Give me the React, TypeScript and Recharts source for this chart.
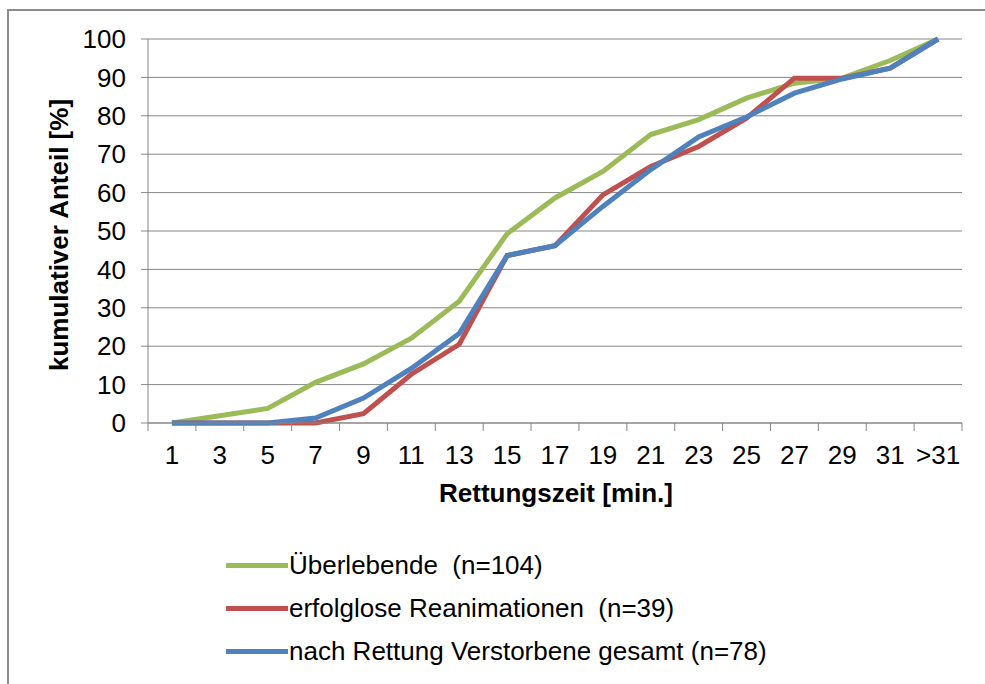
import React from 'react';
import { LineChart, Line, XAxis, YAxis, CartesianGrid, Legend, Label } from 'recharts';

const categories = ['1', '3', '5', '7', '9', '11', '13', '15', '17', '19', '21', '23', '25', '27', '29', '31', '>31'];
const ueberlebende = [0, 1.9, 3.8, 10.6, 15.4, 22.1, 31.7, 49.3, 58.6, 65.5, 75.1, 79.0, 84.6, 88.5, 89.8, 94.4, 100];
const erfolglos = [0, 0, 0, 0, 2.4, 12.7, 20.5, 43.6, 46.2, 59.4, 66.8, 72.0, 79.4, 89.8, 89.8, 92.4, 100];
const verstorben = [0, 0, 0, 1.3, 6.5, 14.2, 23.3, 43.6, 46.2, 56.4, 66.0, 74.5, 79.7, 85.9, 89.6, 92.4, 100];
const yTicks = [0, 10, 20, 30, 40, 50, 60, 70, 80, 90, 100];

const seriesNames = ['Überlebende  (n=104)', 'erfolglose Reanimationen  (n=39)', 'nach Rettung Verstorbene gesamt (n=78)'];
const seriesColors = ['#9BBB59', '#C0504D', '#4F81BD'];

const data = categories.map((c, i) => ({
  cat: c,
  s0: ueberlebende[i],
  s1: erfolglos[i],
  s2: verstorben[i],
}));

const FONT = '"Liberation Sans", Arial, sans-serif';
const AXIS = '#868686';
const W = 985;
const H = 684;
const PLOT_LEFT = 148;
const PLOT_RIGHT = 962;
const PLOT_TOP = 39;
const PLOT_BOTTOM = 423;
const X_AXIS_H = 100;
const HALF_BAND = (PLOT_RIGHT - PLOT_LEFT) / categories.length / 2;

const XTick = (props: any) => {
  const { x, y, payload, index } = props;
  return (
    <g>
      <line x1={x - HALF_BAND} x2={x - HALF_BAND} y1={y} y2={y + 8} stroke={AXIS} strokeWidth={1} />
      {index === categories.length - 1 && (
        <line x1={x + HALF_BAND} x2={x + HALF_BAND} y1={y} y2={y + 8} stroke={AXIS} strokeWidth={1} />
      )}
      <text x={x} y={y + 41} textAnchor="middle" fontSize={26} fill="#000" fontFamily={FONT}>
        {payload.value}
      </text>
    </g>
  );
};

const LegendContent = () => (
  <div style={{ fontFamily: FONT, fontSize: 26, color: '#000' }}>
    {seriesNames.map((n, i) => (
      <div key={n} style={{ display: 'flex', alignItems: 'center', height: 43, whiteSpace: 'pre' }}>
        <span style={{ display: 'inline-block', width: 62, height: 5, background: seriesColors[i] }} />
        <span style={{ marginLeft: 1, whiteSpace: 'pre' }}>{n}</span>
      </div>
    ))}
  </div>
);

export default function App() {
  return (
    <div style={{ position: 'absolute', left: 0, top: 0, width: W, height: H, background: '#fff', overflow: 'hidden' }}>
      <div
        style={{
          position: 'absolute',
          left: 7,
          top: 9,
          width: W + 20,
          height: H + 20,
          border: '2px solid #8c8c8c',
          boxSizing: 'border-box',
        }}
      />
      <div style={{ position: 'absolute', left: 0, top: 0 }}>
        <LineChart
          width={W}
          height={H}
          data={data}
          margin={{ top: PLOT_TOP, right: W - PLOT_RIGHT, left: 0, bottom: H - PLOT_BOTTOM - X_AXIS_H }}
        >
          <CartesianGrid vertical={false} stroke={AXIS} strokeWidth={1} />
          <XAxis
            dataKey="cat"
            interval={0}
            height={X_AXIS_H}
            padding={{ left: HALF_BAND, right: HALF_BAND }}
            axisLine={{ stroke: AXIS, strokeWidth: 1 }}
            tickLine={false}
            tickSize={0}
            tickMargin={0}
            tick={<XTick />}
          >
            <Label
              content={() => (
                <text x={556} y={502} textAnchor="middle" fontSize={26} fontWeight="bold" fill="#000" fontFamily={FONT}>
                  Rettungszeit [min.]
                </text>
              )}
            />
          </XAxis>
          <YAxis
            width={PLOT_LEFT}
            domain={[0, 100]}
            ticks={yTicks}
            interval={0}
            axisLine={{ stroke: AXIS, strokeWidth: 1 }}
            tickLine={{ stroke: AXIS, strokeWidth: 1 }}
            tickSize={7}
            tickMargin={15}
            tick={{ fontSize: 26, fill: '#000', fontFamily: FONT }}
          >
            <Label
              content={() => (
                <text
                  x={59}
                  y={235}
                  transform="rotate(-90 59 235)"
                  textAnchor="middle"
                  dominantBaseline="central"
                  fontSize={26}
                  fontWeight="bold"
                  fill="#000"
                  fontFamily={FONT}
                >
                  kumulativer Anteil [%]
                </text>
              )}
            />
          </YAxis>
          <Legend
            layout="vertical"
            align="center"
            verticalAlign="middle"
            content={<LegendContent />}
            wrapperStyle={{ left: 226, top: 544, width: 'auto' }}
          />
          <Line type="linear" dataKey="s0" name={seriesNames[0]} stroke={seriesColors[0]} strokeWidth={5} dot={false} isAnimationActive={false} />
          <Line type="linear" dataKey="s1" name={seriesNames[1]} stroke={seriesColors[1]} strokeWidth={5} dot={false} isAnimationActive={false} />
          <Line type="linear" dataKey="s2" name={seriesNames[2]} stroke={seriesColors[2]} strokeWidth={5} dot={false} isAnimationActive={false} />
        </LineChart>
      </div>
    </div>
  );
}
